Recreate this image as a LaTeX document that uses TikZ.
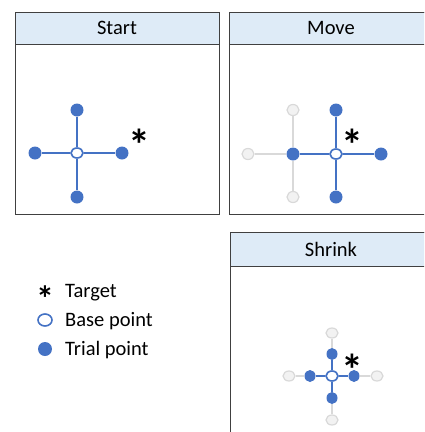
\documentclass[tikz,border=0pt]{standalone}
\usepackage{fontspec}
\setmainfont{Carlito}
\usetikzlibrary{shapes.geometric}
\definecolor{trialblue}{HTML}{4472C4}
\definecolor{headfill}{HTML}{DEEBF7}
\definecolor{frame}{HTML}{404040}
\definecolor{ghostline}{HTML}{D9D9D9}
\definecolor{ghostfill}{HTML}{F2F2F2}

\begin{document}
\begin{tikzpicture}[x=1pt,y=-1pt,
  panel/.style={draw=frame,line width=0.9pt},
  headbox/.style={draw=frame,fill=headfill,line width=0.9pt},
  headtext/.style={font=\fontsize{20.5}{24}\selectfont,inner sep=0pt},
  trialpt/.style={ellipse,fill=trialblue,inner sep=0pt,minimum width=13pt,minimum height=13pt},
  basept/.style={ellipse,draw=trialblue,line width=1.6pt,fill=white,inner sep=0pt,minimum width=12pt,minimum height=10pt},
  ghostpt/.style={ellipse,draw=ghostline,line width=1.2pt,fill=ghostfill,inner sep=0pt,minimum width=12pt,minimum height=11pt},
  arm/.style={trialblue,line width=2pt},
  oldarm/.style={ghostline,line width=2pt},
  targetmark/.style={font=\bfseries\fontsize{44}{44}\selectfont,inner sep=0pt,anchor=north},
  legendtext/.style={font=\fontsize{20.5}{24}\selectfont,inner sep=0pt,anchor=base west}]
\useasboundingbox (0,0) rectangle (424,432);
\clip (0,0) rectangle (424,432);

% panels
\draw[panel] (15,12) rectangle (219,214);
\draw[headbox] (15,12) rectangle (219,44);
\node[headtext] (starthead) at (117,28) {Start};
\draw[panel] (229,12) rectangle (440,214);
\draw[headbox] (229,12) rectangle (440,44);
\node[headtext] (movehead) at (331,28) {Move};
\draw[panel] (230,232) rectangle (440,440);
\draw[headbox] (230,232) rectangle (440,266);
\node[headtext] (shrinkhead) at (331,249) {Shrink};

% start
\node[basept] (s0) at (77,153) {};
\node[trialpt] (s1) at (77,110) {};
\node[trialpt] (s2) at (122,153) {};
\node[trialpt] (s3) at (77,197) {};
\node[trialpt] (s4) at (35,153) {};
\draw[arm] (s1) -- (s0) -- (s3);
\draw[arm] (s4) -- (s0) -- (s2);
\node[targetmark] (t1) at (139,129) {*};

% move
\node[trialpt] (m0) at (293,154) {};
\node[ghostpt] (g1) at (293,110) {};
\node[ghostpt] (g3) at (293,197) {};
\node[ghostpt] (g4) at (248,154) {};
\draw[oldarm] (g1) -- (m0) -- (g3);
\draw[oldarm] (g4) -- (m0);
\node[basept] (n0) at (336,154) {};
\node[trialpt] (n1) at (336,110) {};
\node[trialpt] (n2) at (381,154) {};
\node[trialpt] (n3) at (336,197) {};
\draw[arm] (n1) -- (n0) -- (n3);
\draw[arm] (m0) -- (n0) -- (n2);
\node[targetmark] (t2) at (352,129) {*};

% shrink
\begin{scope}[trialpt/.append style={minimum width=11pt,minimum height=12pt},
  ghostpt/.append style={minimum width=12pt,minimum height=10pt}]
\node[basept] (r0) at (332,376) {};
\node[trialpt] (r1) at (332,354) {};
\node[trialpt] (r2) at (354,376) {};
\node[trialpt] (r3) at (332,398) {};
\node[trialpt] (r4) at (310,376) {};
\node[ghostpt] (q1) at (332,333) {};
\node[ghostpt] (q2) at (377,376) {};
\node[ghostpt] (q3) at (332,420) {};
\node[ghostpt] (q4) at (289,376) {};
\end{scope}
\draw[oldarm] (r1) -- (q1) (r2) -- (q2) (r3) -- (q3) (r4) -- (q4);
\draw[arm] (r1) -- (r0) -- (r3);
\draw[arm] (r4) -- (r0) -- (r2);
\node[targetmark] (t3) at (352,354) {*};

% legend
\node[targetmark,font=\bfseries\fontsize{36}{36}\selectfont] (lt) at (45,286) {*};
\node[basept,minimum width=14pt,minimum height=12pt] (lb) at (45,320) {};
\node[trialpt,minimum width=14pt,minimum height=14pt] (lp) at (45,349) {};
\node[legendtext] (ltt) at (65,297) {Target};
\node[legendtext] (lbt) at (65,326) {Base point};
\node[legendtext] (lpt) at (65,355) {Trial point};
\end{tikzpicture}
\end{document}
